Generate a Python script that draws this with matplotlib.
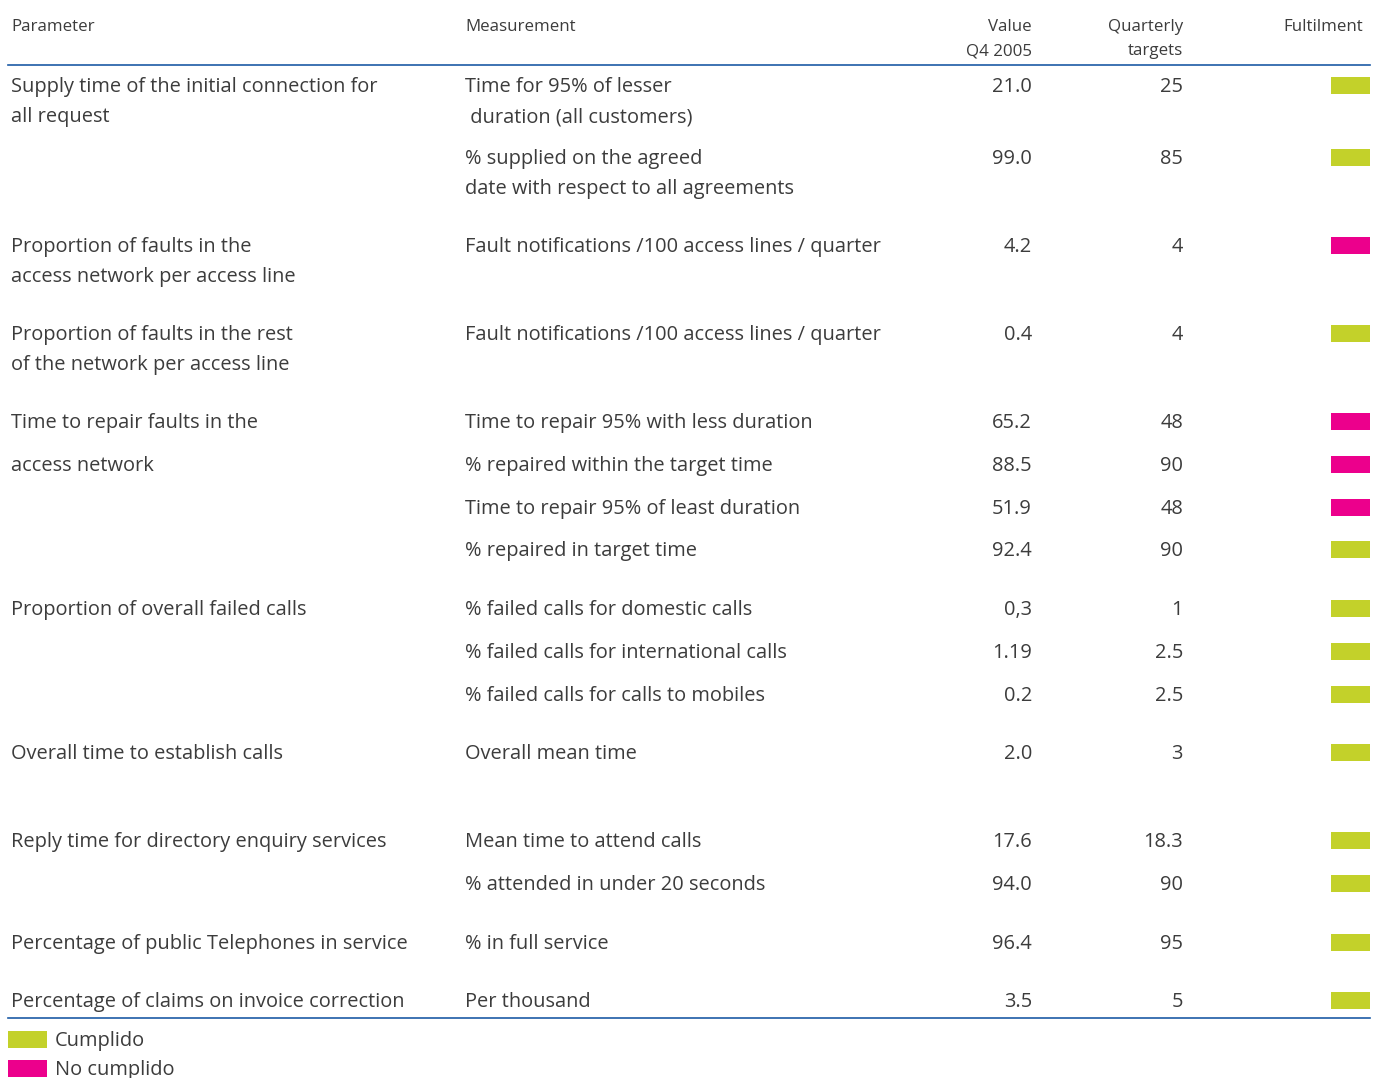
import matplotlib
matplotlib.use("Agg")
import matplotlib.pyplot as plt
from matplotlib.patches import Rectangle

# Table content
parameters = [
    "Supply time of the initial connection for\nall request", "",
    "Proportion of faults in the\naccess network per access line",
    "Proportion of faults in the rest\nof the network per access line",
    "Time to repair faults in the", "access network", "", "",
    "Proportion of overall failed calls", "", "",
    "Overall time to establish calls",
    "Reply time for directory enquiry services", "",
    "Percentage of public Telephones in service",
    "Percentage of claims on invoice correction",
]
measurements = [
    "Time for 95% of lesser\n duration (all customers)",
    "% supplied on the agreed\ndate with respect to all agreements",
    "Fault notifications /100 access lines / quarter",
    "Fault notifications /100 access lines / quarter",
    "Time to repair 95% with less duration",
    "% repaired within the target time",
    "Time to repair 95% of least duration",
    "% repaired in target time",
    "% failed calls for domestic calls",
    "% failed calls for international calls",
    "% failed calls for calls to mobiles",
    "Overall mean time",
    "Mean time to attend calls",
    "% attended in under 20 seconds",
    "% in full service",
    "Per thousand",
]
values = ["21.0", "99.0", "4.2", "0.4", "65.2", "88.5", "51.9", "92.4",
          "0,3", "1.19", "0.2", "2.0", "17.6", "94.0", "96.4", "3.5"]
targets = ["25", "85", "4", "4", "48", "90", "48", "90",
           "1", "2.5", "2.5", "3", "18.3", "90", "95", "5"]
fulfilled = [True, True, False, True, False, False, False, True,
             True, True, True, True, True, True, True, True]

headers = ["Parameter", "Measurement", "Value\nQ4 2005", "Quarterly\ntargets", "Fultilment"]
legend_labels = ["Cumplido", "No cumplido"]

# layout (pixel rows of first text line)
row_y = [85, 157, 245, 333, 421, 464, 507, 549, 608, 651, 694, 752, 840, 883, 942, 1000]
line_gap = 30
dy = 2  # text baseline nudge

GREEN = "#c3d12a"
PINK = "#ec008c"
BLUE = "#1d5ba6"
TEXT = "#3c3c3c"

plt.rcParams['font.family'] = ['Open Sans', 'DejaVu Sans']

W, H = 1383, 1078
fig = plt.figure(figsize=(W / 100, H / 100), dpi=100)
ax = fig.add_axes([0, 0, 1, 1])
ax.set_xlim(0, W)
ax.set_ylim(H, 0)
ax.axis("off")

# header
hs = 12.2
ax.text(11, 25 + dy, headers[0], fontsize=hs, color=TEXT, va="center", ha="left")
ax.text(465, 25 + dy, headers[1], fontsize=hs, color=TEXT, va="center", ha="left")
for i, ln in enumerate(headers[2].split("\n")):
    ax.text(1032, 25 + dy + i * 24, ln, fontsize=hs, color=TEXT, va="center", ha="right")
for i, ln in enumerate(headers[3].split("\n")):
    ax.text(1183, 25 + dy + i * 24, ln, fontsize=hs, color=TEXT, va="center", ha="right")
ax.text(1363, 25 + dy, headers[4], fontsize=hs, color=TEXT, va="center", ha="right")

ax.plot([8, 1370], [65, 65], color=BLUE, lw=1.2)
ax.plot([8, 1370], [1018, 1018], color=BLUE, lw=1.2)

bs = 14.4
for y, p, m, v, t, ok in zip(row_y, parameters, measurements, values, targets, fulfilled):
    for i, ln in enumerate(p.split("\n")):
        if ln:
            ax.text(11, y + dy + i * line_gap, ln, fontsize=bs, color=TEXT, va="center", ha="left")
    for i, ln in enumerate(m.split("\n")):
        ax.text(465, y + dy + i * line_gap, ln, fontsize=bs, color=TEXT, va="center", ha="left")
    ax.text(1032, y + dy, v, fontsize=bs, color=TEXT, va="center", ha="right")
    ax.text(1183, y + dy, t, fontsize=bs, color=TEXT, va="center", ha="right")
    ax.add_patch(Rectangle((1331, y - 8), 39, 17, color=GREEN if ok else PINK, lw=0))

# legend
for i, (lab, col) in enumerate(zip(legend_labels, [GREEN, PINK])):
    ly = 1039 + i * 29
    ax.add_patch(Rectangle((8, ly - 8), 39, 17, color=col, lw=0))
    ax.text(55, ly + dy, lab, fontsize=bs, color=TEXT, va="center", ha="left")

fig.savefig("out.png", dpi=100)
